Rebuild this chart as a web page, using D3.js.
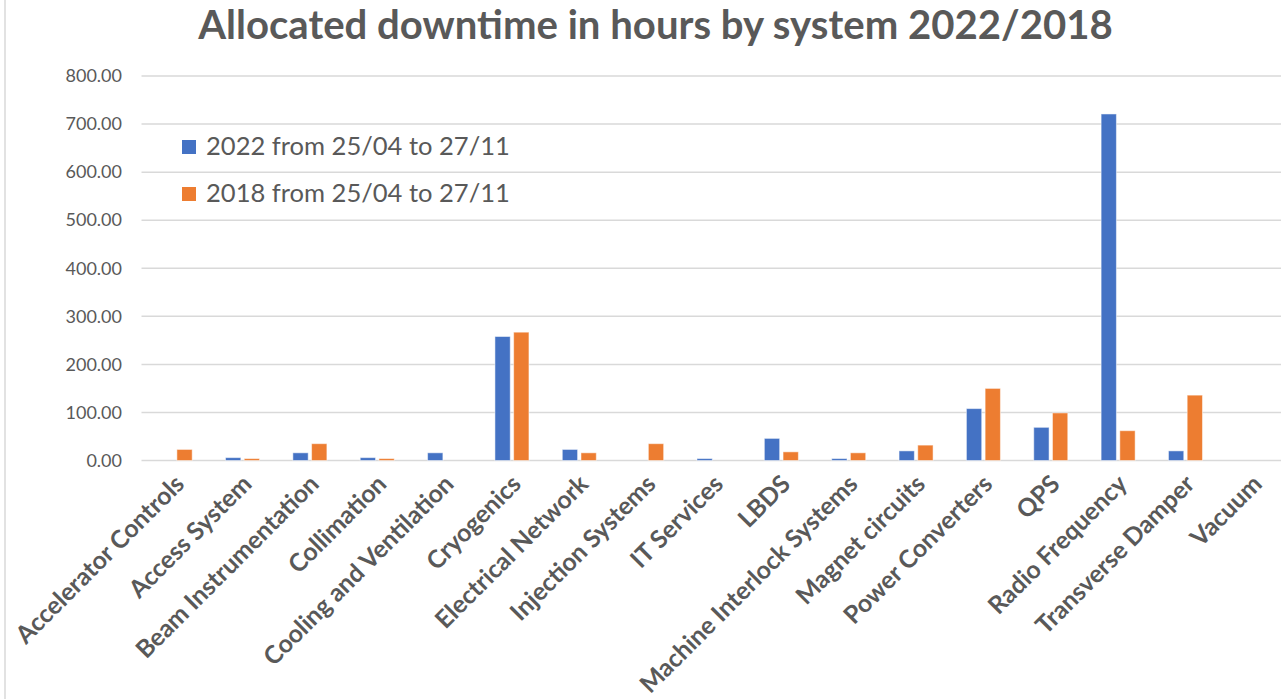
<!DOCTYPE html>
<html><head><meta charset="utf-8">
<script src="https://cdn.jsdelivr.net/npm/d3@7"></script>
<style>html,body{margin:0;padding:0;background:#fff;overflow:hidden}</style>
</head><body>
<svg id="c" width="1281" height="699"></svg>
<script>
const categories = ["Accelerator Controls","Access System","Beam Instrumentation","Collimation","Cooling and Ventilation","Cryogenics","Electrical Network","Injection Systems","IT Services","LBDS","Machine Interlock Systems","Magnet circuits","Power Converters","QPS","Radio Frequency","Transverse Damper","Vacuum"];
const seriesNames = ["2022 from 25/04 to 27/11","2018 from 25/04 to 27/11"];
const values2022 = [0,6,16,6,16,258,23,0,4,46,4,20,108,69,721,20,0];
const values2018 = [23,4,35,4,0,267,16,35,0,18,16,32,150,99,62,136,0];
const yTicks = [0,100,200,300,400,500,600,700,800];
const titleText = "Allocated downtime in hours by system 2022/2018";

const colors = ["#4472C4","#ED7D31"];
const font = "Lato, 'Open Sans', sans-serif";
const svg = d3.select("#c");

// frame line on left
svg.append("line").attr("x1",5).attr("x2",5).attr("y1",0).attr("y2",699)
  .attr("stroke","#d9d9d9").attr("stroke-width",1.5);

const x0 = d3.scaleBand().domain(categories).range([141.5,1286.5]).paddingInner(0.495).paddingOuter(0.2475);
const x1 = d3.scaleBand().domain(seriesNames).range([0,x0.bandwidth()]).paddingInner(0.182);
const y = d3.scaleLinear().domain([0,800]).range([460.5,76]);

// gridlines
svg.append("g").selectAll("line").data(yTicks).join("line")
  .attr("x1",141.5).attr("x2",1281).attr("y1",d=>y(d)).attr("y2",d=>y(d))
  .attr("stroke","#d9d9d9").attr("stroke-width",1.5);

// y axis labels
const yAxis = d3.axisLeft(y).tickValues(yTicks).tickFormat(d3.format(".2f")).tickSize(0).tickPadding(0);
const gy = svg.append("g").attr("transform","translate(122,0)").call(yAxis);
gy.select(".domain").remove();
gy.selectAll("text").attr("font-family",font).attr("font-size",18).attr("fill","#595959");

// bars
const data = categories.map((c,i)=>({c, v:[values2022[i],values2018[i]]}));
const g = svg.append("g").selectAll("g").data(data).join("g").attr("transform",d=>`translate(${x0(d.c)},0)`);
g.selectAll("rect").data(d=>d.v.map((v,k)=>({k,v}))).join("rect")
  .attr("x",d=>x1(seriesNames[d.k])).attr("width",x1.bandwidth())
  .attr("y",d=>y(d.v)).attr("height",d=>y(0)-y(d.v))
  .attr("fill",d=>colors[d.k]).attr("stroke","#fff").attr("stroke-opacity",0.5).attr("stroke-width",1)
  .attr("display",d=>d.v>0?null:"none");

// x labels
const gx = svg.append("g");
const xl = gx.selectAll("text").data(categories).join("text")
  .attr("transform",d=>`translate(${x0(d)+x0.bandwidth()/2-3},472) rotate(-45)`)
  .attr("text-anchor","end").attr("dominant-baseline","hanging")
  .attr("font-family",font).attr("font-weight","bold").attr("font-size",20).attr("fill","#595959")
  .text(d=>d);
const l0 = xl.node().getComputedTextLength();
xl.attr("font-size",20*226/l0);

// title
const t = svg.append("text").attr("x",655.5).attr("y",39).attr("text-anchor","middle")
  .attr("font-family",font).attr("font-weight","bold").attr("font-size",38).attr("fill","#595959").text(titleText);
t.attr("font-size",38*915/t.node().getComputedTextLength());

// legend
const lg = svg.append("g").selectAll("g").data(seriesNames).join("g")
  .attr("transform",(d,i)=>`translate(182,${147+i*47})`);
lg.append("rect").attr("x",0).attr("y",-7).attr("width",14).attr("height",14).attr("fill",(d,i)=>colors[i]);
const lt = lg.append("text").attr("x",24).attr("y",8).attr("font-family",font).attr("font-size",24).attr("fill","#595959").text(d=>d);
const lw = lt.node().getComputedTextLength();
lt.attr("font-size",24*304/lw);
</script>
</body></html>
